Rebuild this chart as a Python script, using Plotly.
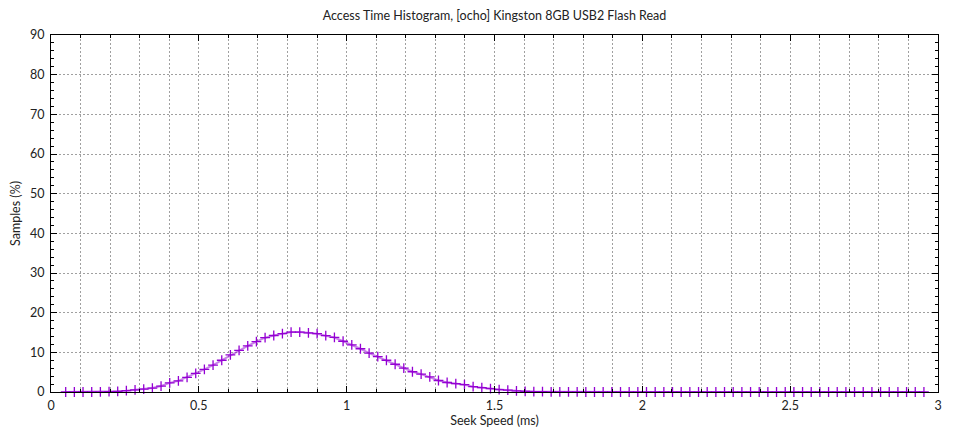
import plotly.graph_objects as go

# Bin centres (ms): 100 bins starting at ~0.05 ms, width ~0.0293 ms
bin_start = 0.0497
bin_width = 0.02932
n_bins = 100
seek_ms = [round(bin_start + bin_width * k, 4) for k in range(n_bins)]

samples_pct = [
    0, 0, 0, 0, 0.02, 0.08, 0.18, 0.33, 0.55, 0.75,
    1.0, 1.5, 2.3, 2.8, 3.7, 4.7, 5.7, 6.8, 8.0, 9.35,
    10.5, 11.65, 12.7, 13.7, 14.25, 14.7, 15.1, 15.1, 14.9, 14.7,
    14.2, 13.75, 12.8, 11.9, 10.9, 9.8, 8.9, 8.0, 7.0, 6.0,
    5.1, 4.5, 3.8, 2.9, 2.4, 2.1, 1.85, 1.35, 1.1, 0.85,
    0.6, 0.45, 0.3, 0.15, 0.1, 0.07, 0.05, 0.03, 0.02, 0.01,
] + [0] * 40

title_text = "Access Time Histogram, [ocho] Kingston 8GB USB2 Flash Read"
x_title = "Seek Speed (ms)"
y_title = "Samples (%)"

x_ticks = [0, 0.5, 1, 1.5, 2, 2.5, 3]
x_tick_text = ["0", "0.5", "1", "1.5", "2", "2.5", "3"]
y_ticks = [0, 10, 20, 30, 40, 50, 60, 70, 80, 90]

violet = "#9400D3"
font_family = "Lato, 'Open Sans', sans-serif"

fig = go.Figure()
fig.add_trace(go.Scatter(
    x=seek_ms, y=samples_pct, mode="lines",
    line=dict(color="rgba(148,0,211,0.5)", width=2),
    hoverinfo="skip", showlegend=False, cliponaxis=False,
))
fig.add_trace(go.Scatter(
    x=seek_ms, y=samples_pct, mode="markers",
    marker=dict(symbol="cross-thin", size=7, line=dict(color=violet, width=1.3), color=violet),
    showlegend=False, cliponaxis=False,
))

# The page body has an 8px default margin, so the figure is sized/offset to fit.
W, H = 952, 424
grid_color = "#a0a0a0"
fig.update_layout(
    width=W, height=H,
    margin=dict(l=43, r=22, t=27, b=40, autoexpand=False),
    paper_bgcolor="white", plot_bgcolor="white",
    font=dict(family=font_family, size=12, color="#222"),
    title=dict(text=title_text, x=0.5, xref="paper", xanchor="center",
               y=1 - 8 / H, yref="container", yanchor="middle",
               font=dict(size=12.5, color="#222"), automargin=False),
    xaxis=dict(
        range=[0, 3], tickvals=x_ticks, ticktext=x_tick_text,
        ticks="inside", ticklen=6, tickcolor="black", tickwidth=1,
        showline=True, linecolor="black", linewidth=1.2, mirror="allticks",
        showgrid=True, gridcolor=grid_color, griddash="2px,2px", gridwidth=1,
        minor=dict(dtick=0.1, ticks="inside", ticklen=3, tickcolor="black",
                   showgrid=True, gridcolor=grid_color, griddash="2px,2px", gridwidth=1),
        zeroline=False, automargin=False,
        ticklabelstandoff=2,
        title=dict(text=x_title, standoff=4, font=dict(size=12.5)),
        tickfont=dict(size=12.5),
    ),
    yaxis=dict(
        range=[0, 90], tickvals=y_ticks,
        ticks="inside", ticklen=6, tickcolor="black", tickwidth=1,
        showline=True, linecolor="black", linewidth=1.2, mirror="allticks",
        showgrid=True, gridcolor=grid_color, griddash="2px,2px", gridwidth=1,
        minor=dict(dtick=2, ticks="inside", ticklen=3, tickcolor="black", showgrid=False),
        zeroline=False, automargin=False,
        ticklabelstandoff=3,
        title=dict(text=y_title, standoff=14, font=dict(size=12.5)),
        tickfont=dict(size=12.5),
    ),
)

fig.write_html("out.html")
